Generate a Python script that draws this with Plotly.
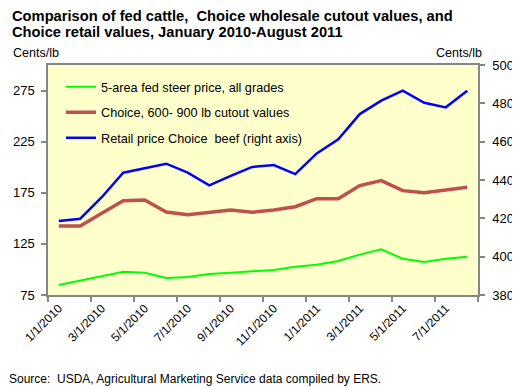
import plotly.graph_objects as go

months = ["1/1/2010", "2/1/2010", "3/1/2010", "4/1/2010", "5/1/2010", "6/1/2010",
          "7/1/2010", "8/1/2010", "9/1/2010", "10/1/2010", "11/1/2010", "12/1/2010",
          "1/1/2011", "2/1/2011", "3/1/2011", "4/1/2011", "5/1/2011", "6/1/2011",
          "7/1/2011", "8/1/2011"]
fed_steer = [84.8, 89.0, 93.6, 97.8, 96.8, 91.6, 92.6, 95.5, 96.8, 97.8,
             99.5, 102.7, 104.7, 108.3, 114.5, 119.7, 110.5, 107.3, 110.5, 112.5]
cutout = [142.5, 142.5, 154.9, 167.3, 168.0, 156.2, 153.6, 155.9, 158.2, 155.9,
          158.2, 161.4, 169.2, 169.2, 182.0, 186.9, 177.1, 175.1, 177.4, 180.3]
retail = [418.6, 419.8, 431.0, 443.8, 446.1, 448.5, 443.8, 437.2, 442.1, 446.8,
          447.8, 443.1, 453.9, 461.2, 474.4, 481.4, 486.6, 480.3, 477.9, 486.6]

names = ["5-area fed steer price, all grades",
         "Choice, 600- 900 lb cutout values",
         "Retail price Choice  beef (right axis)"]

FONT = "Liberation Sans, Arial, sans-serif"
GRAY = "#868686"

# page body has an 8px default margin: figure is drawn 8px right/down
W, H = 512, 380
PL, PR, PT, PB = 40, 470, 57, 287  # plot area in figure pixels
PW, PH = PR - PL, PB - PT


def px(x):
    return (x - PL) / PW


def py(y):
    return (PB - y) / PH


fig = go.Figure()
fig.add_trace(go.Scatter(x=months, y=fed_steer, name=names[0], mode="lines",
                         line=dict(color="#00FF00", width=2), legendgroup="a"))
fig.add_trace(go.Scatter(x=months, y=cutout, name=names[1], mode="lines",
                         line=dict(color="#C0504D", width=3.5), legendgroup="b"))
fig.add_trace(go.Scatter(x=months, y=retail, name=names[2], mode="lines",
                         line=dict(color="#0000FF", width=2.5), legendgroup="c",
                         yaxis="y2"))

fig.update_layout(
    width=W, height=H,
    margin=dict(l=PL, r=W - PR, t=PT, b=H - PB, autoexpand=False),
    paper_bgcolor="white",
    plot_bgcolor="#FFFFCC",
    font=dict(family=FONT, size=12, color="black"),
    showlegend=True,
    legend=dict(x=px(PL + 13), y=py(PT + 7), xanchor="left", yanchor="top",
                bgcolor="rgba(0,0,0,0)", traceorder="grouped",
                tracegroupgap=6, font=dict(size=12.7, family=FONT)),
    xaxis=dict(type="category", tickson="boundaries", tickmode="linear",
               tick0=0, dtick=2, tickangle=-45, ticks="outside", ticklen=5,
               tickcolor=GRAY, tickwidth=1.5, showgrid=False, range=[-0.5, 19.5],
               tickfont=dict(size=12), showline=True, linecolor=GRAY,
               linewidth=1.5, mirror=True, automargin=False),
    yaxis=dict(range=[75, 300], tickvals=[75, 125, 175, 225, 275],
               ticks="outside", ticklen=5, tickcolor=GRAY, tickwidth=1.5,
               showgrid=False, zeroline=False, tickfont=dict(size=13),
               showline=True, linecolor=GRAY, linewidth=1.5,
               ticklabelstandoff=4, automargin=False),
    yaxis2=dict(range=[380, 500], dtick=20, tick0=380, overlaying="y", side="right",
                ticks="outside", ticklen=5, tickcolor=GRAY, tickwidth=1.5,
                showgrid=False, zeroline=False, tickfont=dict(size=13),
                showline=True, linecolor=GRAY, linewidth=1.5,
                ticklabelstandoff=5, automargin=False),
)

title1 = "Comparison of fed cattle,  Choice wholesale cutout values, and"
title2 = "Choice retail values, January 2010-August 2011"
fig.add_annotation(text="<b>" + title1 + "</b>", xref="paper", yref="paper",
                   x=px(2), y=py(8), xanchor="left", yanchor="middle",
                   showarrow=False, font=dict(size=14.7, family=FONT))
fig.add_annotation(text="<b>" + title2 + "</b>", xref="paper", yref="paper",
                   x=px(2), y=py(24), xanchor="left", yanchor="middle",
                   showarrow=False, font=dict(size=14.7, family=FONT))

fig.add_annotation(text="Cents/lb", xref="paper", yref="paper",
                   x=px(3), y=py(45), xanchor="left", yanchor="middle",
                   showarrow=False, font=dict(size=12.5))
fig.add_annotation(text="Cents/lb", xref="paper", yref="paper",
                   x=px(476), y=py(45), xanchor="right", yanchor="middle",
                   showarrow=False, font=dict(size=12.5))
fig.add_annotation(text="Source:  USDA, Agricultural Marketing Service data compiled by ERS.",
                   xref="paper", yref="paper", x=px(-1), y=py(371),
                   xanchor="left", yanchor="middle", showarrow=False,
                   font=dict(size=12))

fig.write_html("out.html")
